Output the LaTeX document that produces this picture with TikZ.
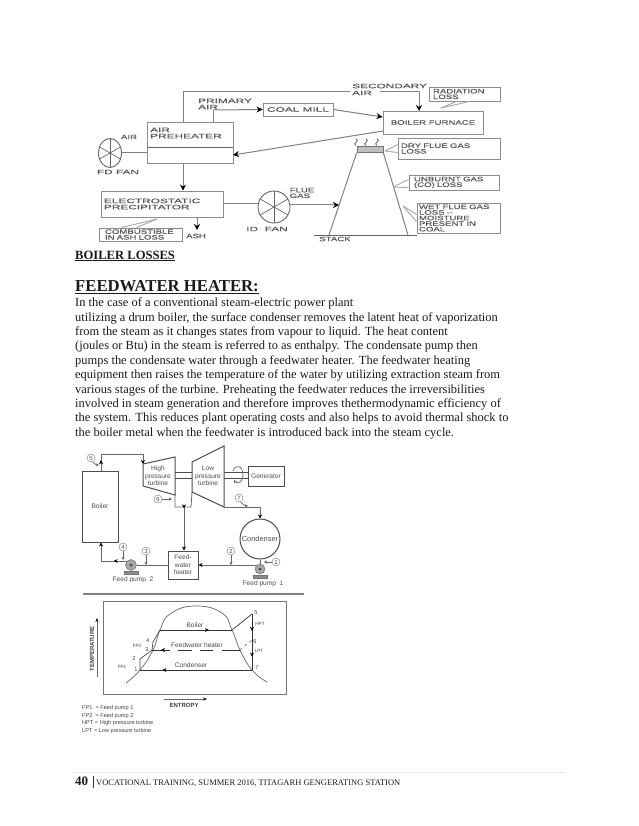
\documentclass[tikz,border=0pt]{standalone}
\usepackage{fontspec}
\setmainfont{Liberation Serif}
\setsansfont{Liberation Sans}
\newfontfamily\blockfont[FakeStretch=1.5,FakeBold=0.5]{Liberation Sans}
\newfontfamily\widefont[FakeStretch=1.85,FakeBold=0.5]{Liberation Sans}
\usepackage{tikz}
\usetikzlibrary{arrows.meta, calc, shapes.geometric, decorations.markings}

\tikzset{
  flow/.style={draw=black!50, line width=1pt},
  tip/.style={flow, -{Stealth[length=6pt,width=6pt,black]}},
  plantflow/.style={draw=black!60, line width=0.8pt},
  thin flow/.style={draw=black!60, line width=0.7pt},
  callout/.style={draw=black!35, line width=0.9pt},
  midtip/.style={postaction={decorate, decoration={markings,
    mark=at position #1 with {\arrow{Stealth[length=4pt,width=4pt,black]}}}}},
  blockbox/.style={draw=black!45, line width=0.9pt, inner sep=0pt, align=left,
    font=\blockfont\fontsize{6.4}{5.6}\selectfont, text=black!65},
  widebox/.style={blockbox, font=\widefont\fontsize{6.4}{6.2}\selectfont},
  blocktext/.style={inner sep=0pt, align=left,
    font=\blockfont\fontsize{6.4}{5.6}\selectfont, text=black!65},
  widetext/.style={blocktext, font=\widefont\fontsize{6.4}{6.2}\selectfont},
  fan/.style={draw=black!60, ellipse, line width=0.9pt, inner sep=0pt},
  plantbox/.style={draw=black!70, line width=1pt, inner sep=0pt, align=center,
    font=\sffamily\fontsize{6.6}{7.6}\selectfont, text=black!70},
  planttext/.style={inner sep=0pt, align=center,
    font=\sffamily\fontsize{6.6}{7.6}\selectfont, text=black!70},
  statenum/.style={draw=black!55, circle, inner sep=0pt, minimum size=8pt,
    font=\sffamily\fontsize{6}{6}\selectfont, text=black!70},
  pump/.style={draw=black!60, fill=black!35, circle, inner sep=0pt},
  chartlabel/.style={inner sep=0pt, font=\sffamily\fontsize{5.6}{6}\selectfont, text=black!75},
  bodyline/.style={inner sep=0pt, anchor=base west, font=\fontsize{12.46}{14}\selectfont, text=black!90},
}

\begin{document}
\begin{tikzpicture}[x=1pt, y=-1pt]
  \useasboundingbox (0,0) rectangle (638,826);

  % Boiler losses blocks
  \node[blockbox, minimum width=86pt, minimum height=41pt] (airpre) at (190,142.5) {};
  \node[widetext, anchor=west] (airpretext) at (150,133) {AIR\\PREHEATER};
  \draw[thin flow] (airpre.west |- 0,147) -- (airpre.east |- 0,147);
  \node[widebox, minimum width=70pt, minimum height=13pt] (coalmill) at (298,109.5) {COAL MILL};
  \node[blockbox, minimum width=100pt, minimum height=23pt] (furnace) at (433,122.5) {BOILER FURNACE};
  \node[widebox, text width=116pt, minimum width=122pt, minimum height=26pt] (esp) at (162,204) {ELECTROSTATIC\\PRECIPITATOR};
  \node[blockbox, text width=71pt, minimum width=83pt, minimum height=13pt] (combust) at (140.5,234.5) {COMBUSTIBLE\\IN ASH LOSS};
  \node[blockbox, text width=63pt, minimum width=71pt, minimum height=14pt] (radloss) at (464.5,94) {RADIATION\\LOSS};
  \node[blockbox, text width=96pt, minimum width=102pt, minimum height=21pt] (dryloss) at (449,148.5) {DRY FLUE GAS\\LOSS};
  \node[blockbox, text width=80pt, minimum width=90pt, minimum height=15pt] (unburnt) at (454,182.5) {UNBURNT GAS\\(CO) LOSS};
  \node[blockbox, text width=79pt, minimum width=83pt, minimum height=30pt] (wetloss) at (458.5,218) {WET FLUE GAS\\LOSS --\\MOISTURE\\PRESENT IN\\COAL};

  \node[widetext, anchor=west] (primary) at (198,104) {PRIMARY\\AIR};
  \node[widetext, anchor=west, font=\widefont\fontsize{6.4}{7}\selectfont] (secondary) at (352,89.5) {SECONDARY\\AIR};
  \node[blocktext] (airlabel) at (129,137) {AIR};
  \node[widetext] (fdlabel) at (118,172) {FD FAN};
  \node[widetext] (idlabel) at (267,229) {ID\ \ FAN};
  \node[blocktext] (fluelabel) at (302,193) {FLUE\\GAS};
  \node[blocktext] (ashlabel) at (196,236) {ASH};
  \node[blocktext] (stacklabel) at (335,239) {STACK};

  % Fans
  \node[fan, minimum width=23pt, minimum height=29pt] (fdfan) at (110,153) {};
  \node[fan, minimum width=32pt, minimum height=32pt] (idfan) at (274,207) {};
  \foreach \a in {90,150,...,450} {
    \draw[thin flow] (fdfan.center) -- (fdfan.\a);
    \draw[thin flow] (idfan.center) -- (idfan.\a);
  }

  % Stack
  \node[draw=black!55, fill=black!25, line width=0.8pt, inner sep=0pt, minimum width=26pt, minimum height=6pt] (stackcap) at (370,149.5) {};
  \coordinate (stackleft) at (329,235);
  \coordinate (stackright) at (408,235);
  \coordinate (stackin) at (339,205);
  \draw[flow] (stackleft) -- (stackcap.south west);
  \draw[flow] (stackright) -- (stackcap.south east);
  \draw[thin flow] (314,235) -- (417,235);
  \foreach \x in {356,366,377} {
    \draw[draw=black!60, line width=0.8pt] (\x,145.5) .. controls (\x-5,143) and (\x+5,141.5) .. (\x,138.5);
  }

  % Air and gas paths
  \coordinate (secup) at (183,92);
  \coordinate (secend) at (350,92);
  \coordinate (secstart) at (380,92);
  \coordinate (secdrop) at (419,111);
  \coordinate (primup) at (213,110);
  \coordinate (furnout) at (383,131);
  \coordinate (prein) at (233,155);
  \draw[flow] (secup |- airpre.north) -- (secup) -- (secend);
  \draw[tip] (secstart) -| (secdrop);
  \draw[flow] (primup |- airpre.north) -- (primup);
  \draw[tip] (primup) -- (coalmill.west);
  \draw[tip] (coalmill.east) -- (furnace.north west |- 0,117);
  \draw[tip] (furnout) -- (prein);
  \draw[flow] (fdfan.east) -- (airpre.west |- fdfan);
  \draw[tip] (secup |- airpre.south) -- (secup |- esp.north);
  \draw[flow] (esp.east) -- (esp.east -| idfan.west);
  \draw[tip] (idfan.east |- stackin) -- (stackin);
  \coordinate (ashdrop) at (197,230);
  \draw[tip] (ashdrop |- esp.south) -- (ashdrop);

  % Loss callouts
  \coordinate (comtip) at (157,219);
  \draw[callout] (comtip) -- ($(combust.north west)+(23,0)$);
  \draw[callout] (comtip) -- ($(combust.north west)+(38,0)$);
  \coordinate (radtip) at (441,108);
  \draw[callout] (radtip) -- ($(radloss.south west)+(28,0)$);
  \draw[callout] (radtip) -- ($(radloss.south west)+(41,0)$);
  \coordinate (drytip) at (385,151);
  \draw[callout] (drytip) -- ($(dryloss.north west)+(0,7)$);
  \draw[callout] (drytip) -- ($(dryloss.north west)+(0,15)$);
  \coordinate (unbtip) at (393,187);
  \draw[callout] (unbtip) -- ($(unburnt.north west)+(0,5)$);
  \draw[callout] (unbtip) -- ($(unburnt.north west)+(0,13)$);
  \coordinate (wettip) at (403,206);
  \draw[callout] (wettip) -- ($(wetloss.north west)+(0,12)$);
  \draw[callout] (wettip) -- ($(wetloss.north west)+(0,19)$);

  % Text
  \node[bodyline, font=\bfseries\fontsize{12.6}{14}\selectfont] (losstitle) at (75,259) {\underline{BOILER LOSSES}};
  \node[bodyline, font=\bfseries\fontsize{16.7}{18}\selectfont] (fwtitle) at (75,291.5) {\underline{FEEDWATER HEATER:}};
  \node[bodyline] (line1) at (75,306) {In the case of a conventional steam-electric power plant};
  \node[bodyline] (line2) at (75,321) {utilizing a drum boiler, the surface condenser removes the latent heat of vaporization};
  \node[bodyline] (line3) at (75,335) {from the steam as it changes states from vapour to liquid. The heat content};
  \node[bodyline] (line4) at (75,349) {(joules or Btu) in the steam is referred to as enthalpy. The condensate pump then};
  \node[bodyline] (line5) at (75,364) {pumps the condensate water through a feedwater heater. The feedwater heating};
  \node[bodyline] (line6) at (75,378) {equipment then raises the temperature of the water by utilizing extraction steam from};
  \node[bodyline] (line7) at (75,393) {various stages of the turbine. Preheating the feedwater reduces the irreversibilities};
  \node[bodyline] (line8) at (75,407) {involved in steam generation and therefore improves thethermodynamic efficiency of};
  \node[bodyline] (line9) at (75,421) {the system. This reduces plant operating costs and also helps to avoid thermal shock to};
  \node[bodyline] (line10) at (75,436) {the boiler metal when the feedwater is introduced back into the steam cycle.};

  % Feedwater plant
  \node[plantbox, minimum width=36pt, minimum height=71pt] (boiler) at (100,506.5) {Boiler};
  \node[plantbox, minimum width=36pt, minimum height=20pt] (generator) at (266,476) {Generator};
  \node[plantbox, minimum width=30pt, minimum height=28pt] (heater) at (183,565) {Feed-\\water\\heater};
  \node[plantbox, circle, minimum size=40pt, font=\sffamily\fontsize{7.4}{8}\selectfont] (condenser) at (260,539) {Condenser};
  \draw[draw=black!70, line width=1pt] (143,464) coordinate (hpin) -- (175,457) -- (175,495) coordinate (hpout) -- (143,486) -- cycle;
  \draw[draw=black!70, line width=1pt] (192,462) -- (224,446) -- (224,507) coordinate (lpout) -- (192,492) coordinate (lpext) -- cycle;
  \node[planttext] (hptext) at (158,476) {High\\pressure\\turbine};
  \node[planttext] (lptext) at (208,476) {Low\\pressure\\turbine};
  \foreach \y in {472,478} {
    \draw[draw=black!70, line width=1pt] (175,\y) -- (192,\y);
    \draw[draw=black!70, line width=1pt] (224,\y) -- (generator.west |- 0,\y);
  }
  \draw[thin flow, -{Stealth[length=3pt,width=3pt]}] (233,471) .. controls (235,464) and (243,465) .. (243,475) .. controls (243,482) and (237,485) .. (234,480);

  % Pumps
  \node[pump, minimum size=11pt] (pumptwo) at (131,565) {};
  \node[pump, minimum size=10pt] (pumpone) at (260,569) {};
  \node[draw=black!55, fill=black!45, inner sep=0pt, minimum width=14pt, minimum height=3pt] (basetwo) at (131,573) {};
  \node[draw=black!55, fill=black!45, inner sep=0pt, minimum width=14pt, minimum height=3pt] (baseone) at (260,577) {};
  \fill[black!75] (pumptwo) circle[radius=1.5];
  \fill[black!75] (pumpone) circle[radius=1.5];
  \node[planttext] (pumptwotext) at (133,580) {Feed pump\ \ 2};
  \node[planttext] (pumponetext) at (263,584) {Feed pump\ \ 1};

  % Water and steam lines
  \coordinate (steamtop) at (101,454);
  \coordinate (extjoin) at (184,507);
  \coordinate (retcorner) at (101,561);
  \draw[plantflow, midtip=0.15, -{Stealth[length=4pt,width=4pt,black]}] (steamtop |- boiler.north) -- (steamtop) -| (hpin);
  \draw[plantflow] (hpout) -- (175,507) -- (191,507) -- (lpext);
  \draw[plantflow, midtip=0.03, -{Stealth[length=4pt,width=4pt,black]}] (extjoin) -- (extjoin |- heater.north);
  \draw[plantflow, -{Stealth[length=4pt,width=4pt,black]}] (lpout) -| (condenser.north);
  \draw[plantflow] (condenser.south) -- (pumpone.north);
  \draw[plantflow, -{Stealth[length=4pt,width=4pt,black]}] (pumpone.north west |- heater.east) -- (heater.east);
  \draw[plantflow] (heater.west) -- (pumptwo.east);
  \draw[plantflow, midtip=0.3, -{Stealth[length=4pt,width=4pt,black]}] (pumptwo.north west) -- (retcorner |- pumptwo.north west) -- (retcorner |- boiler.south);

  % State points
  \node[statenum] (stone) at (276,562) {1};
  \node[statenum] (sttwo) at (231,551) {2};
  \node[statenum] (stthree) at (146,551) {3};
  \node[statenum] (stfour) at (123,547) {4};
  \node[statenum] (stfive) at (91,458) {5};
  \node[statenum] (stsix) at (158,499) {6};
  \node[statenum] (stseven) at (239,498) {7};
  \coordinate (fivetip) at (99,465);
  \coordinate (seventip) at (248,506);
  \draw[thin flow, -{Stealth[length=3pt,width=3pt]}] (stone) -- (264,562);
  \draw[thin flow, -{Stealth[length=3pt,width=3pt]}] (sttwo) -- (231,565);
  \draw[thin flow, -{Stealth[length=3pt,width=3pt]}] (stthree) -- (146,565);
  \draw[thin flow, -{Stealth[length=3pt,width=3pt]}] (stfour) -- (123,560);
  \draw[thin flow, -{Stealth[length=3pt,width=3pt]}] (stsix) -- (172,499);
  \draw[thin flow, -{Stealth[length=3pt,width=3pt]}] (stfive) to[bend right=25] (fivetip);
  \draw[thin flow, -{Stealth[length=3pt,width=3pt]}] (stseven) to[bend right=25] (seventip);

  % T-s chart
  \draw[draw=black!50, line width=2pt] (83,594) -- (304,594);
  \node[draw=black!55, line width=1pt, inner sep=0pt, minimum width=183pt, minimum height=93pt] (chart) at (194.5,647.5) {};
  \node[inner sep=0pt, rotate=90, font=\sffamily\bfseries\fontsize{6}{6}\selectfont, text=black!75] (templabel) at (92,649) {TEMPERATURE};
  \node[inner sep=0pt, font=\sffamily\bfseries\fontsize{6}{6}\selectfont, text=black!75] (entlabel) at (184,705) {ENTROPY};
  \coordinate (tempstart) at (97,677);
  \coordinate (tempend) at (97,618);
  \coordinate (entstart) at (164,699);
  \coordinate (entend) at (207,699);
  \draw[plantflow, -{Stealth[length=4pt,width=3pt,black]}] (tempstart) -- (tempend);
  \draw[plantflow, -{Stealth[length=4pt,width=3pt,black]}] (entstart) -- (entend);
  \draw[draw=black!60, line width=0.7pt] plot[smooth, tension=0.8] coordinates {(126,683) (140,670) (153,650) (160,630) (170,614) (195,606) (222,613) (232,630) (240,650) (252,670) (267,682)};

  \coordinate (ptone) at (140,670);
  \coordinate (pttwo) at (140,659);
  \coordinate (ptthree) at (152,650);
  \coordinate (ptfour) at (160,630);
  \coordinate (ptfive) at (252,614);
  \coordinate (ptsix) at (240,650);
  \coordinate (ptseven) at (252,670);
  \coordinate (ptboil) at (232,630);
  \coordinate (ptbend) at (252,640);
  \draw[draw=black!80, line width=0.8pt, midtip=0.68] (ptfour) -- (ptboil);
  \draw[draw=black!70, line width=0.8pt] (ptboil) -- (ptfive);
  \draw[draw=black!80, line width=0.8pt, midtip=0.3, midtip=0.76] (ptfive) -- (ptseven);
  \draw[draw=black!80, line width=0.8pt, midtip=0.8] (ptseven) -- (ptone);
  \draw[draw=black!80, line width=0.8pt] (ptsix) -- (222,650);
  \draw[draw=black!80, line width=0.8pt] (213,650) -- (200,650);
  \draw[draw=black!80, line width=0.8pt] (192,650) -- (178,650);
  \draw[draw=black!80, line width=0.8pt, midtip=0.5] (170,650) -- (ptthree);
  \draw[draw=black!50, line width=0.7pt, dashed] (ptsix) -- (ptbend);
  \draw[draw=black!70, line width=0.7pt] (ptone) -- (pttwo) -- (ptthree) -- (153,642) -- (ptfour);

  \node[planttext] (boilertext) at (195,625) {Boiler};
  \node[planttext] (fwtext) at (197,645) {Feedwater heater};
  \node[planttext] (condtext) at (191,665) {Condenser};
  \node[chartlabel] (labone) at (136,670) {1};
  \node[chartlabel] (labtwo) at (134,659) {2};
  \node[chartlabel] (labthree) at (147,650) {3};
  \node[chartlabel] (labfour) at (148,641) {4};
  \node[chartlabel] (labfive) at (256,613) {5};
  \node[chartlabel] (labsix) at (255,642) {6};
  \node[chartlabel] (labseven) at (257,668) {7};
  \node[chartlabel, font=\sffamily\fontsize{4.6}{5}\selectfont] (labhpt) at (260,624) {HPT};
  \node[chartlabel, font=\sffamily\fontsize{4.6}{5}\selectfont] (lablpt) at (259,651) {LPT};
  \node[chartlabel, font=\sffamily\fontsize{4.6}{5}\selectfont] (labfpone) at (122,667) {FP1};
  \node[chartlabel, font=\sffamily\fontsize{4.6}{5}\selectfont] (labfptwo) at (137,646) {FP2};

  % Legend
  \node[chartlabel, anchor=west] (legone) at (82,708) {FP1\ \ = Feed pump 1};
  \node[chartlabel, anchor=west] (legtwo) at (82,716) {FP2\ \ = Feed pump 2};
  \node[chartlabel, anchor=west] (legthree) at (82,723) {HPT = High pressure turbine};
  \node[chartlabel, anchor=west] (legfour) at (82,731) {LPT\ = Low pressure turbine};

  % Footer
  \draw[draw=black!8, line width=0.8pt] (73,772) -- (565,772);
  \node[bodyline, font=\bfseries\fontsize{13}{14}\selectfont] (pagenum) at (75,785) {40};
  \draw[draw=black!80, line width=0.7pt] (93,776) -- (93,788);
  \node[bodyline, font=\fontsize{8.5}{10}\selectfont] (footer) at (96,785) {VOCATIONAL TRAINING, SUMMER 2016, TITAGARH GENGERATING STATION};
\end{tikzpicture}
\end{document}
